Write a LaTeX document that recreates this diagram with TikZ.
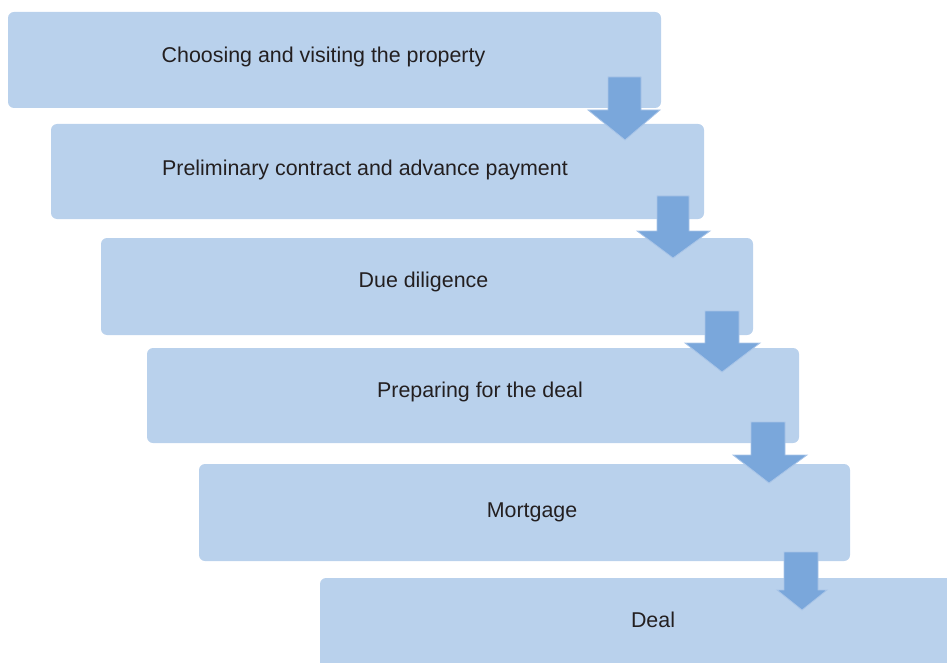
\documentclass[tikz,border=0pt]{standalone}
\usepackage{fontspec}
\setmainfont{Liberation Sans}
\definecolor{boxfill}{HTML}{B9D1EC}
\definecolor{arrowfill}{HTML}{7AA7DB}
\definecolor{arrowedge}{HTML}{A9C5E8}
\definecolor{txt}{HTML}{231F20}
\begin{document}
\begin{tikzpicture}[x=1pt,y=-1pt,
  stagebox/.style={fill=boxfill, draw=none, rounded corners=6pt, inner sep=0pt, outer sep=0pt, anchor=north west},
  stagetext/.style={anchor=base, text=txt, font=\fontsize{21.4}{26}\selectfont, inner sep=0pt},
  blockarrow/.style={fill=arrowfill, draw=arrowedge, line width=0.8pt, line join=miter}]
\useasboundingbox (0,0) rectangle (947,663);
\begin{scope}
\clip (0,0) rectangle (947,663);
% boxes
\node[stagebox, minimum width=653, minimum height=96] (b1) at (8,12) {};
\node[stagebox, minimum width=653, minimum height=95] (b2) at (51,124) {};
\node[stagebox, minimum width=652, minimum height=97] (b3) at (101,238) {};
\node[stagebox, minimum width=652, minimum height=95] (b4) at (147,348) {};
\node[stagebox, minimum width=651, minimum height=97] (b5) at (199,464) {};
\node[stagebox, minimum width=660, minimum height=110] (b6) at (320,578) {};
% texts
\node[stagetext] (t1) at (323.5,63) {Choosing and visiting the property};
\node[stagetext] (t2) at (365,176) {Preliminary contract and advance payment};
\node[stagetext] (t3) at (423.5,287) {Due diligence};
\node[stagetext] (t4) at (480,397) {Preparing for the deal};
\node[stagetext] (t5) at (532,517) {Mortgage};
\node[stagetext] (t6) at (653,627) {Deal};
% block arrows
\draw[blockarrow] (608,77) -- (641,77) -- (641,110) -- (660,110) -- (625,140) -- (588,110) -- (608,110) -- cycle;
\draw[blockarrow] (657,196) -- (689,196) -- (689,231) -- (710,231) -- (673,258) -- (637,231) -- (657,231) -- cycle;
\draw[blockarrow] (705,311) -- (739,311) -- (739,343) -- (760,343) -- (722,372) -- (685,343) -- (705,343) -- cycle;
\draw[blockarrow] (751,422) -- (785,422) -- (785,455) -- (807,455) -- (769,483) -- (733,455) -- (751,455) -- cycle;
\draw[blockarrow] (784,552) -- (818,552) -- (818,590) -- (827,590) -- (802,610) -- (777,590) -- (784,590) -- cycle;
\end{scope}
\end{tikzpicture}
\end{document}
